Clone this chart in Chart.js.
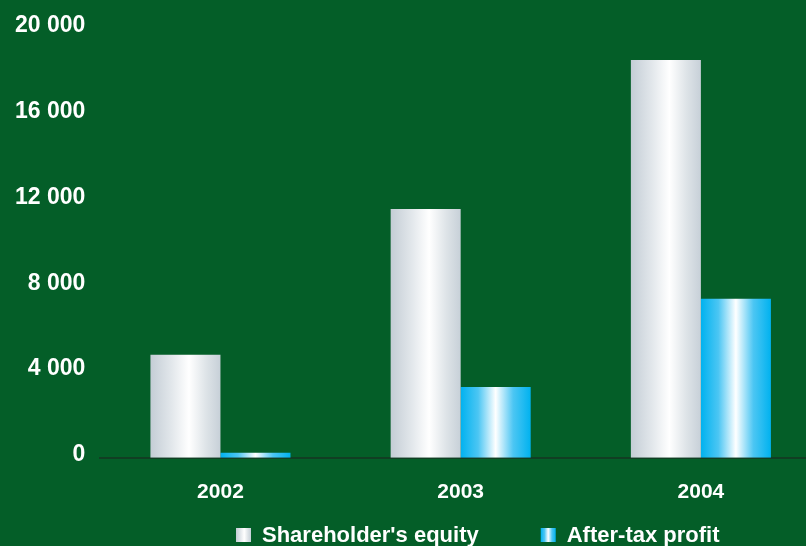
<!DOCTYPE html>
<html>
<head>
<meta charset="UTF-8">
<title>Shareholder's equity and after-tax profit</title>
<script src="https://cdn.jsdelivr.net/npm/chart.js@4.4.1/dist/chart.umd.min.js"></script>
<style>
  html, body { margin: 0; padding: 0; background: #045e28; overflow: hidden; }
  #chart { display: block; }
</style>
</head>
<body>
<canvas id="chart" width="830" height="546"></canvas>
<script>
// data
var years = ['2002', '2003', '2004'];
var equity = [4800, 11600, 18550];
var profit = [240, 3300, 7420];
var yTicks = [0, 4000, 8000, 12000, 16000, 20000];

var CAT_PCT = 0.583;
var FONT = '"Liberation Sans", Arial, sans-serif';

// horizontal "cylinder" shading for each bar
var greyStops = [[0, '#c4cdd5'], [0.3, '#e2e7eb'], [0.55, '#ffffff'], [0.8, '#dde3e7'], [1, '#c7d0d8']];
var blueStops = [[0, '#00b2ef'], [0.25, '#4cc6f3'], [0.5, '#ffffff'], [0.75, '#4cc6f3'], [1, '#00b2ef']];

function fillFor(stops) {
  return function (ctx) {
    var chart = ctx.chart;
    var xs = chart.scales.x;
    if (!xs || ctx.dataIndex === undefined) return stops[0][1];
    var slot = (xs.right - xs.left) / chart.data.labels.length;
    var group = slot * CAT_PCT;
    var w = group / chart.data.datasets.length;
    var left = xs.getPixelForValue(ctx.dataIndex) - group / 2 + ctx.datasetIndex * w;
    if (!isFinite(left) || !isFinite(w) || w <= 0) return stops[0][1];
    var g = chart.ctx.createLinearGradient(left, 0, left + w, 0);
    stops.forEach(function (s) { g.addColorStop(s[0], s[1]); });
    return g;
  };
}

function thousands(v) {
  return String(v).replace(/\B(?=(\d{3})+(?!\d))/g, ' ');
}

// legend row under the axis labels
var legendRow = {
  id: 'legendRow',
  afterDraw: function (chart) {
    var c = chart.ctx;
    var x = 236;
    var y = chart.scales.x.bottom + 1;
    c.save();
    c.font = 'bold 22px ' + FONT;
    c.textBaseline = 'middle';
    chart.data.datasets.forEach(function (ds) {
      var g = c.createLinearGradient(x, 0, x + 15, 0);
      ds.legendStops.forEach(function (s) { g.addColorStop(s[0], s[1]); });
      c.fillStyle = g;
      c.fillRect(x, y, 15, 14);
      c.fillStyle = '#ffffff';
      c.fillText(ds.label, x + 26, y + 8);
      x += 26 + c.measureText(ds.label).width + 62;
    });
    c.restore();
  }
};

new Chart(document.getElementById('chart'), {
  type: 'bar',
  data: {
    labels: years,
    datasets: [
      { label: "Shareholder's equity", data: equity, backgroundColor: fillFor(greyStops), legendStops: greyStops },
      { label: 'After-tax profit', data: profit, backgroundColor: fillFor(blueStops), legendStops: blueStops }
    ]
  },
  options: {
    responsive: false,
    animation: false,
    layout: { padding: { top: 20, left: 0, right: 9, bottom: 19 } },
    datasets: { bar: { categoryPercentage: CAT_PCT, barPercentage: 1, borderWidth: 0 } },
    plugins: { legend: { display: false }, tooltip: { enabled: false } },
    scales: {
      x: {
        z: 1,
        grid: { display: false, drawTicks: false },
        border: { display: true, color: 'rgba(30,30,30,0.5)', width: 2 },
        ticks: { color: '#ffffff', padding: 22, font: { family: FONT, size: 21, weight: 'bold' } }
      },
      y: {
        min: 0,
        max: 20000,
        afterBuildTicks: function (axis) { axis.ticks = yTicks.map(function (v) { return { value: v }; }); },
        grid: { display: false, drawTicks: false },
        border: { display: false },
        ticks: {
          color: '#ffffff',
          padding: 15,
          labelOffset: -3,
          font: { family: FONT, size: 23, weight: 'bold' },
          callback: function (v) { return thousands(v); }
        }
      }
    }
  },
  plugins: [legendRow]
});
</script>
</body>
</html>
